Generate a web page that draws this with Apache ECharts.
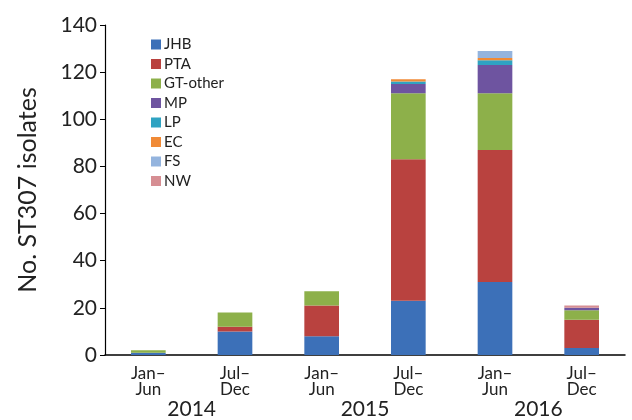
<!DOCTYPE html>
<html><head><meta charset="utf-8">
<script src="https://cdn.jsdelivr.net/npm/echarts@6/dist/echarts.min.js"></script>
<style>html,body{margin:0;padding:0;background:#fff}#c{width:632px;height:420px}</style>
</head><body><div id="c"></div>
<script>
const categories = ['Jan–\nJun','Jul–\nDec','Jan–\nJun','Jul–\nDec','Jan–\nJun','Jul–\nDec'];
const years = ['2014','2015','2016'];
const JHB = [1, 10, 8, 23, 31, 3];
const PTA = [0, 2, 13, 60, 56, 12];
const GT_other = [1, 6, 6, 28, 24, 4];
const MP = [0, 0, 0, 4, 12, 1];
const LP = [0, 0, 0, 1, 2, 0];
const EC = [0, 0, 0, 1, 1, 0];
const FS = [0, 0, 0, 0, 3, 0];
const NW = [0, 0, 0, 0, 0, 1];
const yTicks = [0, 20, 40, 60, 80, 100, 120, 140];

const seriesDefs = [
  ['JHB', JHB, '#3C70B8'],
  ['PTA', PTA, '#B9423F'],
  ['GT-other', GT_other, '#8DB04A'],
  ['MP', MP, '#6E54A0'],
  ['LP', LP, '#2FA3C2'],
  ['EC', EC, '#F08A36'],
  ['FS', FS, '#94B4DE'],
  ['NW', NW, '#D68E93']
];
const font = 'Lato, "Open Sans", sans-serif';
const chart = echarts.init(document.getElementById('c'));
chart.setOption({
  animation: false,
  textStyle: {fontFamily: font},
  grid: {left: 105, right: 7, top: 25, bottom: 65, containLabel: false},
  legend: {
    orient: 'vertical', left: 146, top: 32,
    itemWidth: 10, itemHeight: 10, itemGap: 4.5,
    icon: 'rect',
    textStyle: {fontSize: 15, color: '#222', fontFamily: font, lineHeight: 15, padding: [0,0,0,-2]},
    data: seriesDefs.map(d => d[0])
  },
  xAxis: [{
    type: 'category', data: categories,
    axisLine: {lineStyle: {color: '#000', width: 1.5}},
    axisTick: {show: false},
    axisLabel: {fontSize: 17, color: '#222', lineHeight: 16, margin: 11, fontFamily: font}
  }, {
    type: 'category', data: years, position: 'bottom', offset: 44,
    axisLine: {show: false}, axisTick: {show: false},
    axisLabel: {fontSize: 21, color: '#222', margin: 0, fontFamily: font}
  }],
  yAxis: {
    type: 'value', min: yTicks[0], max: yTicks[yTicks.length-1], interval: 20,
    name: 'No. ST307 isolates', nameLocation: 'middle', nameGap: 65,
    nameTextStyle: {fontSize: 25, color: '#222', fontFamily: font},
    axisLine: {show: true, lineStyle: {color: '#000', width: 1.2}},
    axisTick: {show: true, length: 5, lineStyle: {color: '#000'}},
    splitLine: {show: false},
    axisLabel: {fontSize: 21, color: '#222', margin: 8, fontFamily: font}
  },
  series: seriesDefs.map(d => ({
    name: d[0], type: 'bar', stack: 'total', data: d[1], xAxisIndex: 0,
    barCategoryGap: '60%',
    itemStyle: {color: d[2]}
  }))
});
</script></body></html>
